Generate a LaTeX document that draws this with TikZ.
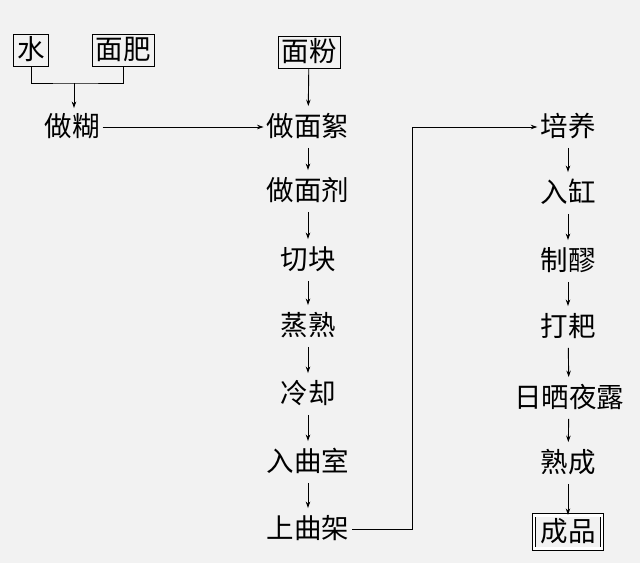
\documentclass[tikz,border=0pt]{standalone}
\usepackage{fontspec}
\setmainfont{Noto Sans CJK SC}
\usetikzlibrary{arrows.meta}
\definecolor{bg}{RGB}{242,242,242}
\begin{document}
\begin{tikzpicture}[x=1pt,y=-1pt,
  every node/.style={font=\fontsize{27.5}{27.5}\selectfont, inner sep=3pt, text height=23pt, text depth=4.5pt},
  stepnode/.style={},
  boxnode/.style={draw, line width=0.9pt, inner sep=3.5pt, text height=22pt, text depth=3pt},
  dboxnode/.style={draw, double, double distance=2.8pt, line width=0.8pt, inner xsep=6.5pt, inner ysep=3pt},
  conn/.style={line width=0.9pt},
  arr/.style={conn, -{Stealth[length=6.5pt,width=4.5pt]}},
  varr/.style={arr, shorten >=4pt, shorten <=4pt}]
\fill[bg] (0,0) rectangle (640,563);
\useasboundingbox (0,0) rectangle (640,563);
% sources
\node[boxnode] (shui) at (31,50) {水};
\node[boxnode] (mianfei) at (123,50) {面肥};
\node[boxnode] (mianfen) at (309,52) {面粉};
\node[stepnode] (zuohu) at (72,127) {做糊};
% column 1
\node[stepnode] (a1) at (308,127) {做面絮};
\node[stepnode] (a2) at (308,191) {做面剂};
\node[stepnode] (a3) at (308,260) {切块};
\node[stepnode] (a4) at (308,326) {蒸熟};
\node[stepnode] (a5) at (308,394) {冷却};
\node[stepnode] (a6) at (308,462) {入曲室};
\node[stepnode] (a7) at (308,529) {上曲架};
% column 2
\node[stepnode] (b1) at (568,127) {培养};
\node[stepnode] (b2) at (568,193) {入缸};
\node[stepnode] (b3) at (568,261) {制醪};
\node[stepnode] (b4) at (568,327) {打耙};
\node[stepnode] (b5) at (569,398) {日晒夜露};
\node[stepnode] (b6) at (568,463) {熟成};
\node[dboxnode] (b7) at (568,532) {成品};
% connectors
\coordinate (j) at (74,83);
\draw[conn] (shui.south) |- (j) -| (mianfei.south);
\draw[arr, shorten >=2pt] (j) -- (j |- zuohu.north);
\draw[arr, shorten >=4pt] (mianfen) -- (a1);
\draw[arr] (zuohu) -- (a1);
\draw[varr] (a1) -- (a2);
\draw[varr] (a2) -- (a3);
\draw[varr] (a3) -- (a4);
\draw[varr] (a4) -- (a5);
\draw[varr] (a5) -- (a6);
\draw[varr] (a6) -- (a7);
\coordinate (k) at (412,0);
\draw[arr] (a7.east) -| (k |- b1) -- (b1.west);
\draw[varr] (b1) -- (b2);
\draw[varr] (b2) -- (b3);
\draw[varr] (b3) -- (b4);
\draw[varr] (b4) -- (b5);
\draw[varr] (b5) -- (b6);
\draw[varr, shorten >=0pt] (b6) -- (b7);
\end{tikzpicture}
\end{document}
